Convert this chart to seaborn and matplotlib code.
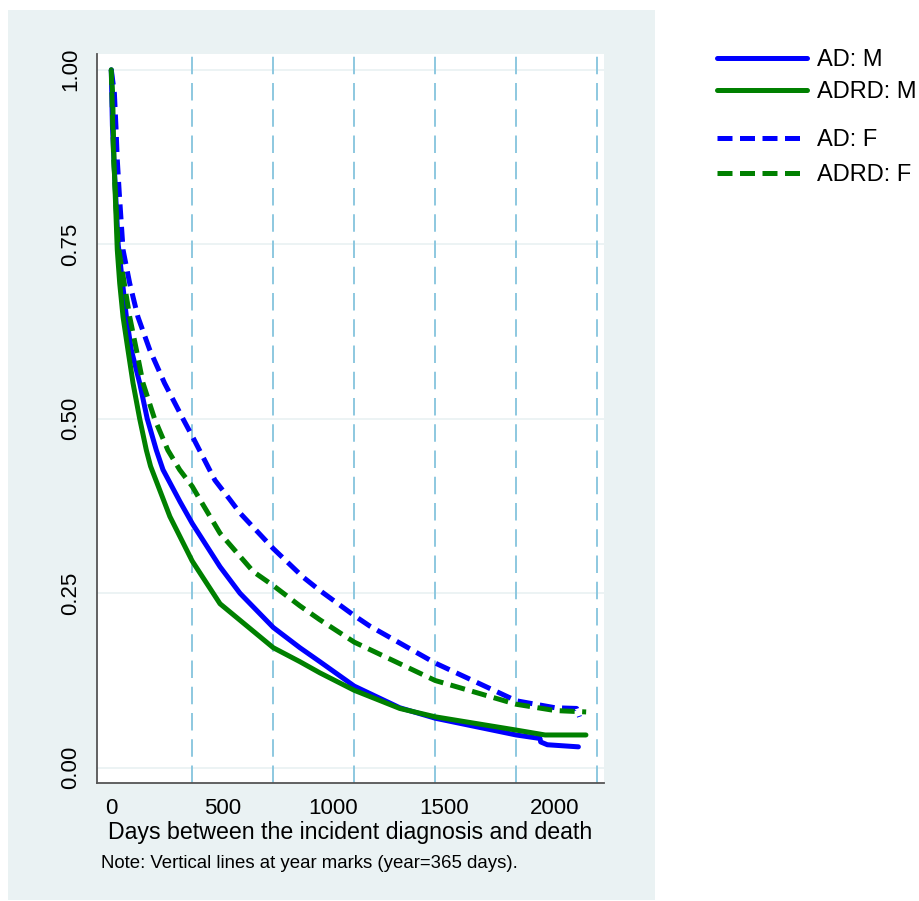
import numpy as np
import pandas as pd
import matplotlib
matplotlib.use("Agg")
import matplotlib.pyplot as plt
from matplotlib.patches import Rectangle
from matplotlib.lines import Line2D
import seaborn as sns

# ---- data ----
days_ad_m = [0, 5, 15, 31, 68, 90, 128, 162, 203, 233, 310, 365, 490, 580, 730, 850, 940,
             1095, 1300, 1460, 1825, 1932, 1935, 1965, 2105]
surv_ad_m = [1.0, 0.92, 0.85, 0.75, 0.646, 0.599, 0.551, 0.50, 0.455, 0.427, 0.381, 0.350,
             0.288, 0.25, 0.201, 0.172, 0.152, 0.117, 0.086, 0.071, 0.047, 0.042, 0.037,
             0.033, 0.030]

days_adrd_m = [0, 6, 12, 27, 38, 53, 75, 98, 128, 158, 177, 264, 365, 490, 730, 850,
               940, 1095, 1300, 1460, 1825, 1955, 2139]
surv_adrd_m = [1.0, 0.966, 0.871, 0.742, 0.694, 0.646, 0.599, 0.551, 0.50, 0.455, 0.432,
               0.36, 0.296, 0.235, 0.172, 0.152, 0.136, 0.111, 0.085, 0.073, 0.054,
               0.047, 0.047]

days_ad_f = [0, 14, 21, 27, 36, 53, 83, 120, 173, 240, 323, 370, 467, 535, 580, 730, 865,
             940, 1095, 1165, 1460, 1825, 2000, 2097, 2110]
surv_ad_f = [1.0, 0.966, 0.918, 0.871, 0.823, 0.742, 0.694, 0.646, 0.599, 0.551, 0.50,
             0.472, 0.412, 0.384, 0.365, 0.314, 0.273, 0.254, 0.218, 0.203, 0.150, 0.096,
             0.086, 0.085, 0.073]

days_adrd_f = [0, 10, 30, 83, 113, 143, 195, 255, 308, 365, 400, 490, 640, 730, 850, 940,
               1095, 1460, 1825, 2000, 2140]
surv_adrd_f = [1.0, 0.88, 0.75, 0.646, 0.599, 0.551, 0.50, 0.455, 0.427, 0.403, 0.384,
               0.336, 0.281, 0.261, 0.232, 0.212, 0.180, 0.125, 0.091, 0.082, 0.080]

labels = ["AD: M", "ADRD: M", "AD: F", "ADRD: F"]
year_marks = [365, 730, 1095, 1460, 1825, 2190]
xticks = [0, 500, 1000, 1500, 2000]
yticks = [0.0, 0.25, 0.5, 0.75, 1.0]
ytick_labels = ["0.00", "0.25", "0.50", "0.75", "1.00"]

frames = []
for lab, d, s in zip(labels,
                     [days_ad_m, days_adrd_m, days_ad_f, days_adrd_f],
                     [surv_ad_m, surv_adrd_m, surv_ad_f, surv_adrd_f]):
    frames.append(pd.DataFrame({"days": d, "surv": s, "group": lab}))
df = pd.concat(frames, ignore_index=True)

# ---- style ----
sns.set_style("white")
plt.rcParams["font.family"] = ["Liberation Sans", "DejaVu Sans"]
plt.rcParams["text.color"] = "black"
plt.rcParams["axes.labelcolor"] = "black"

BLUE = "#0000FF"
GREEN = "#008000"
BG = "#EAF2F3"
palette = {"AD: M": BLUE, "ADRD: M": GREEN, "AD: F": BLUE, "ADRD: F": GREEN}
dashes = {"AD: M": "", "ADRD: M": "", "AD: F": (3, 1.5), "ADRD: F": (3, 1.5)}

W, H = 919, 901
fig = plt.figure(figsize=(W / 100, H / 100), dpi=100, facecolor="white")
bg = Rectangle((8 / W, 1 / H), (655 - 8) / W, (900 - 10) / H,
               transform=fig.transFigure, facecolor=BG, edgecolor="none", zorder=-10)
fig.add_artist(bg)

ax = fig.add_axes([97 / W, 1 - 783 / H, (604 - 97) / W, (783 - 54) / H])
ax.set_zorder(1)
ax.set_facecolor("white")

for v in yticks:
    ax.axhline(v, color=BG, lw=1.3, zorder=1)
for v in year_marks:
    ax.axvline(v, color="#8DC8E0", lw=1.4, dashes=(9, 4.5), zorder=2)

sns.lineplot(data=df, x="days", y="surv", hue="group", style="group",
             palette=palette, dashes=dashes, estimator=None, sort=True,
             linewidth=3.6, legend=False, ax=ax, zorder=3)

ax.set_xlim(-64.4, 2220.4)
ax.set_ylim(-0.0218, 1.0226)
ax.set_xticks(xticks)
ax.set_xticklabels([str(t) for t in xticks], fontsize=16)
ax.set_yticks(yticks)
ax.set_yticklabels(ytick_labels, fontsize=16, rotation=90, va="center")

for side in ["top", "right"]:
    ax.spines[side].set_visible(False)
for side in ["left", "bottom"]:
    ax.spines[side].set_color("#555555")
    ax.spines[side].set_linewidth(1.3)
ax.tick_params(axis="both", which="both", direction="out", length=6.5, width=1.2,
               color="#555555", labelcolor="black")
ax.tick_params(axis="x", pad=4)
ax.tick_params(axis="y", pad=5)
ax.grid(False)

ax.set_xlabel("Days between the incident diagnosis and death", fontsize=16.7,
              labelpad=2, color="black")
ax.set_ylabel("")

fig.text(101 / W, 1 - 863 / H, "Note: Vertical lines at year marks (year=365 days).",
         fontsize=13.4, va="center", ha="left", color="black")

# ---- legends ----
hm = [Line2D([], [], color=BLUE, lw=3.6), Line2D([], [], color=GREEN, lw=3.6)]
hf = [Line2D([], [], color=BLUE, lw=3.6, dashes=(3, 1.5)),
      Line2D([], [], color=GREEN, lw=3.6, dashes=(3, 1.5))]
kw = dict(frameon=False, fontsize=17, handlelength=3.8, handletextpad=0.42,
          borderpad=0, borderaxespad=0, loc="upper left", labelcolor="black")
fig.legend(hm, labels[:2], bbox_to_anchor=(717 / W, 1 - 49 / H), labelspacing=0.42, **kw)
fig.legend(hf, labels[2:], bbox_to_anchor=(717 / W, 1 - 129 / H), labelspacing=0.55, **kw)

fig.savefig("out.png", dpi=100, facecolor="white")
